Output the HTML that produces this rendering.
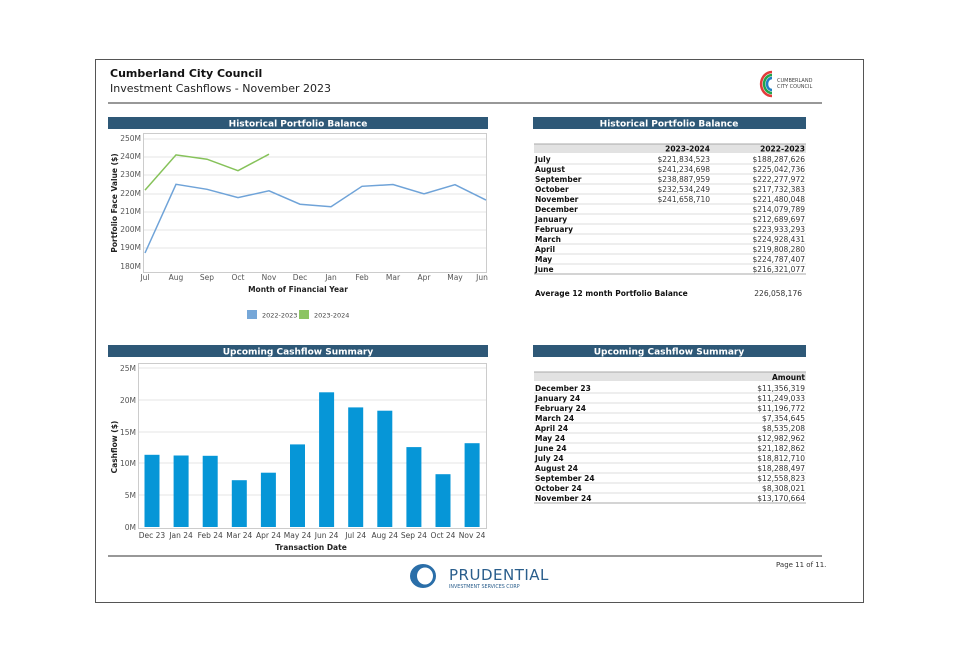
<!DOCTYPE html>
<html><head><meta charset="utf-8"><style>
body{margin:0;background:#fff}
svg text{font-family:"DejaVu Sans","Liberation Sans",sans-serif}
</style></head><body>
<svg width="957" height="661" viewBox="0 0 957 661" xmlns="http://www.w3.org/2000/svg">
<rect x="95.5" y="59.5" width="768" height="543" fill="#fff" stroke="#555" stroke-width="1"/>
<text x="110" y="77" font-size="11" font-weight="bold" fill="#111" font-family="Liberation Sans">Cumberland City Council</text>
<text x="110" y="92" font-size="11" fill="#222">Investment Cashflows - November 2023</text>
<line x1="108" y1="103" x2="822" y2="103" stroke="#777" stroke-width="1.5"/>
<!-- council logo -->
<g fill="none" stroke-width="2.5">
<path d="M772 72 A10 11 0 1 0 772 96" stroke="#e23b3b"/>
<path d="M772 75 A7.5 8.5 0 1 0 772 93" stroke="#22a34a"/>
<path d="M772 78 A5 6 0 1 0 772 90" stroke="#1f7fc4"/>
</g>
<text x="777" y="82" font-size="5" fill="#444">CUMBERLAND</text>
<text x="777" y="88" font-size="5" fill="#444">CITY COUNCIL</text>

<!-- chart 1 -->
<rect x="108" y="117" width="380" height="12" fill="#2e5877"/>
<text x="298" y="126.5" font-size="9" font-weight="bold" fill="#fff" text-anchor="middle">Historical Portfolio Balance</text>
<rect x="143.5" y="133.5" width="343" height="139" fill="#fff" stroke="#ccc"/>
<g stroke="#e4e4e4" stroke-width="1">
<line x1="144" y1="139" x2="486" y2="139"/><line x1="144" y1="157" x2="486" y2="157"/><line x1="144" y1="175" x2="486" y2="175"/><line x1="144" y1="194" x2="486" y2="194"/><line x1="144" y1="212" x2="486" y2="212"/><line x1="144" y1="230" x2="486" y2="230"/><line x1="144" y1="248" x2="486" y2="248"/>
</g>
<g font-size="7.5" fill="#555" text-anchor="end">
<text x="141" y="141">250M</text><text x="141" y="159">240M</text><text x="141" y="177">230M</text><text x="141" y="196">220M</text><text x="141" y="214">210M</text><text x="141" y="232">200M</text><text x="141" y="250">190M</text><text x="141" y="269">180M</text>
</g>
<g font-size="7.5" fill="#555" text-anchor="middle">
<text x="145" y="280">Jul</text><text x="176" y="280">Aug</text><text x="207" y="280">Sep</text><text x="238" y="280">Oct</text><text x="269" y="280">Nov</text><text x="300" y="280">Dec</text><text x="331" y="280">Jan</text><text x="362" y="280">Feb</text><text x="393" y="280">Mar</text><text x="424" y="280">Apr</text><text x="455" y="280">May</text><text x="482" y="280">Jun</text>
</g>
<text x="298" y="292" font-size="7.5" font-weight="bold" fill="#222" text-anchor="middle">Month of Financial Year</text>
<text transform="translate(117,203) rotate(-90)" font-size="7.5" font-weight="bold" fill="#222" text-anchor="middle">Portfolio Face Value ($)</text>
<polyline fill="none" stroke="#6fa3d8" stroke-width="1.5" points="145,253 176,184.3 207,189.3 238,197.6 269,190.8 300,204.2 331,206.7 362,186.3 393,184.5 424,193.8 455,184.7 486,200.1"/>
<polyline fill="none" stroke="#86c25a" stroke-width="1.5" points="145,190.1 176,154.9 207,159.2 238,170.7 269,154.2"/>
<rect x="247" y="310" width="10" height="9" fill="#76a7d8"/>
<text x="262" y="317.5" font-size="6.5" fill="#444">2022-2023</text>
<rect x="299" y="310" width="10" height="9" fill="#8cc462"/>
<text x="314" y="317.5" font-size="6.5" fill="#444">2023-2024</text>

<!-- table 1 -->
<rect x="533" y="117" width="273" height="12" fill="#2e5877"/>
<text x="669" y="126.5" font-size="9" font-weight="bold" fill="#fff" text-anchor="middle">Historical Portfolio Balance</text>
<rect x="534" y="144" width="272" height="9" fill="#e2e2e2"/>
<line x1="534" y1="144" x2="806" y2="144" stroke="#aaa"/>
<g font-size="7.5" fill="#111">
<text x="710" y="151.5" text-anchor="end" font-weight="bold">2023-2024</text><text x="805" y="151.5" text-anchor="end" font-weight="bold">2022-2023</text>
</g>
<g font-size="7.5" font-weight="bold" fill="#111">
<text x="535" y="162">July</text><text x="535" y="172">August</text><text x="535" y="182">September</text><text x="535" y="192">October</text><text x="535" y="202">November</text><text x="535" y="212">December</text><text x="535" y="222">January</text><text x="535" y="232">February</text><text x="535" y="242">March</text><text x="535" y="252">April</text><text x="535" y="262">May</text><text x="535" y="272">June</text>
</g>
<g font-size="7.5" fill="#333" text-anchor="end">
<text x="710" y="162">$221,834,523</text><text x="710" y="172">$241,234,698</text><text x="710" y="182">$238,887,959</text><text x="710" y="192">$232,534,249</text><text x="710" y="202">$241,658,710</text>
<text x="805" y="162">$188,287,626</text><text x="805" y="172">$225,042,736</text><text x="805" y="182">$222,277,972</text><text x="805" y="192">$217,732,383</text><text x="805" y="202">$221,480,048</text><text x="805" y="212">$214,079,789</text><text x="805" y="222">$212,689,697</text><text x="805" y="232">$223,933,293</text><text x="805" y="242">$224,928,431</text><text x="805" y="252">$219,808,280</text><text x="805" y="262">$224,787,407</text><text x="805" y="272">$216,321,077</text>
</g>
<g stroke="#ddd"><line x1="534" y1="164" x2="806" y2="164"/><line x1="534" y1="174" x2="806" y2="174"/><line x1="534" y1="184" x2="806" y2="184"/><line x1="534" y1="194" x2="806" y2="194"/><line x1="534" y1="204" x2="806" y2="204"/><line x1="534" y1="214" x2="806" y2="214"/><line x1="534" y1="224" x2="806" y2="224"/><line x1="534" y1="234" x2="806" y2="234"/><line x1="534" y1="244" x2="806" y2="244"/><line x1="534" y1="254" x2="806" y2="254"/><line x1="534" y1="264" x2="806" y2="264"/></g>
<line x1="534" y1="274" x2="806" y2="274" stroke="#aaa"/>
<text x="535" y="296" font-size="7.5" font-weight="bold" fill="#111">Average 12 month Portfolio Balance</text>
<text x="802" y="296" font-size="7.5" fill="#333" text-anchor="end">226,058,176</text>

<!-- chart 2 -->
<rect x="108" y="345" width="380" height="12" fill="#2e5877"/>
<text x="298" y="354.5" font-size="9" font-weight="bold" fill="#fff" text-anchor="middle">Upcoming Cashflow Summary</text>
<rect x="138.5" y="363.5" width="348" height="165" fill="#fff" stroke="#ccc"/>
<g stroke="#e4e4e4"><line x1="139" y1="368" x2="486" y2="368"/><line x1="139" y1="400" x2="486" y2="400"/><line x1="139" y1="432" x2="486" y2="432"/><line x1="139" y1="463" x2="486" y2="463"/><line x1="139" y1="495" x2="486" y2="495"/></g>
<g font-size="7.5" fill="#555" text-anchor="end">
<text x="136" y="371">25M</text><text x="136" y="403">20M</text><text x="136" y="435">15M</text><text x="136" y="466">10M</text><text x="136" y="498">5M</text><text x="136" y="530">0M</text>
</g>
<g fill="#0696d7">
<rect x="144.5" y="454.8" width="15" height="72.2"/><rect x="173.6" y="455.5" width="15" height="71.5"/><rect x="202.7" y="455.8" width="15" height="71.2"/><rect x="231.8" y="480.2" width="15" height="46.8"/><rect x="260.9" y="472.7" width="15" height="54.3"/><rect x="290" y="444.4" width="15" height="82.6"/><rect x="319.1" y="392.3" width="15" height="134.7"/><rect x="348.2" y="407.4" width="15" height="119.6"/><rect x="377.3" y="410.7" width="15" height="116.3"/><rect x="406.4" y="447.1" width="15" height="79.9"/><rect x="435.5" y="474.2" width="15" height="52.8"/><rect x="464.6" y="443.2" width="15" height="83.8"/>
</g>
<g font-size="7.5" fill="#444" text-anchor="middle">
<text x="152" y="538">Dec 23</text><text x="181.1" y="538">Jan 24</text><text x="210.2" y="538">Feb 24</text><text x="239.3" y="538">Mar 24</text><text x="268.4" y="538">Apr 24</text><text x="297.5" y="538">May 24</text><text x="326.6" y="538">Jun 24</text><text x="355.7" y="538">Jul 24</text><text x="384.8" y="538">Aug 24</text><text x="413.9" y="538">Sep 24</text><text x="443" y="538">Oct 24</text><text x="472.1" y="538">Nov 24</text>
</g>
<text x="311" y="550" font-size="7.5" font-weight="bold" fill="#222" text-anchor="middle">Transaction Date</text>
<text transform="translate(117,447) rotate(-90)" font-size="7.5" font-weight="bold" fill="#222" text-anchor="middle">Cashflow ($)</text>

<!-- table 2 -->
<rect x="533" y="345" width="273" height="12" fill="#2e5877"/>
<text x="669" y="354.5" font-size="9" font-weight="bold" fill="#fff" text-anchor="middle">Upcoming Cashflow Summary</text>
<rect x="534" y="372" width="272" height="9" fill="#e2e2e2"/>
<line x1="534" y1="372" x2="806" y2="372" stroke="#aaa"/>
<text x="805" y="380" font-size="7.5" font-weight="bold" fill="#111" text-anchor="end">Amount</text>
<g font-size="7.5" font-weight="bold" fill="#111">
<text x="535" y="391">December 23</text><text x="535" y="401">January 24</text><text x="535" y="411">February 24</text><text x="535" y="421">March 24</text><text x="535" y="431">April 24</text><text x="535" y="441">May 24</text><text x="535" y="451">June 24</text><text x="535" y="461">July 24</text><text x="535" y="471">August 24</text><text x="535" y="481">September 24</text><text x="535" y="491">October 24</text><text x="535" y="501">November 24</text>
</g>
<g font-size="7.5" fill="#333" text-anchor="end">
<text x="805" y="391">$11,356,319</text><text x="805" y="401">$11,249,033</text><text x="805" y="411">$11,196,772</text><text x="805" y="421">$7,354,645</text><text x="805" y="431">$8,535,208</text><text x="805" y="441">$12,982,962</text><text x="805" y="451">$21,182,862</text><text x="805" y="461">$18,812,710</text><text x="805" y="471">$18,288,497</text><text x="805" y="481">$12,558,823</text><text x="805" y="491">$8,308,021</text><text x="805" y="501">$13,170,664</text>
</g>
<g stroke="#ddd"><line x1="534" y1="393" x2="806" y2="393"/><line x1="534" y1="403" x2="806" y2="403"/><line x1="534" y1="413" x2="806" y2="413"/><line x1="534" y1="423" x2="806" y2="423"/><line x1="534" y1="433" x2="806" y2="433"/><line x1="534" y1="443" x2="806" y2="443"/><line x1="534" y1="453" x2="806" y2="453"/><line x1="534" y1="463" x2="806" y2="463"/><line x1="534" y1="473" x2="806" y2="473"/><line x1="534" y1="483" x2="806" y2="483"/><line x1="534" y1="493" x2="806" y2="493"/></g>
<line x1="534" y1="503" x2="806" y2="503" stroke="#aaa"/>

<!-- footer -->
<line x1="108" y1="556" x2="822" y2="556" stroke="#777" stroke-width="1.5"/>
<ellipse cx="423" cy="576" rx="13" ry="12" fill="#2a6ea8"/>
<ellipse cx="425" cy="576" rx="8" ry="8.5" fill="#fff"/>
<text x="449" y="580" font-size="15" fill="#2a5e8c" font-family="Liberation Sans" letter-spacing="0.5">PRUDENTIAL</text>
<text x="449" y="588" font-size="4.8" fill="#2a5e8c">INVESTMENT SERVICES CORP</text>
<text x="776" y="567" font-size="7" fill="#333">Page 11 of 11.</text>
</svg>
</body></html>
